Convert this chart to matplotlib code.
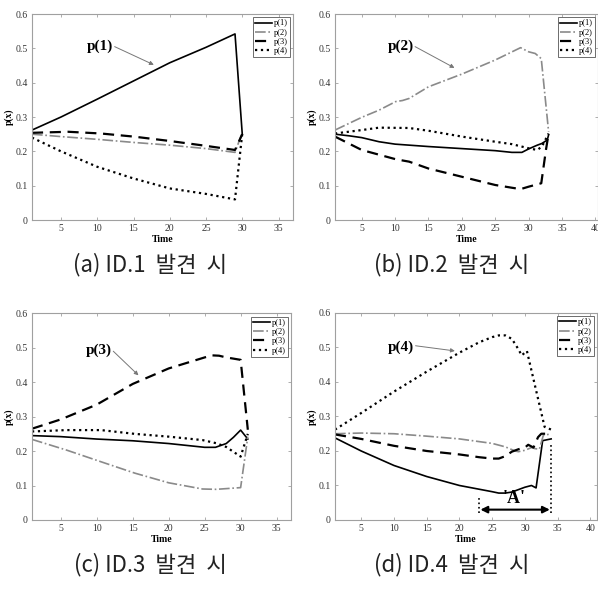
import matplotlib
matplotlib.use('Agg')
import matplotlib.pyplot as plt

# ---- data (Time, p(x)) ----
# panel (a) ID.1
a_x1 = [1, 5, 10, 15, 20, 25, 29, 30]
a_p1 = [0.262, 0.300, 0.352, 0.405, 0.458, 0.503, 0.542, 0.250]
a_x2 = [1, 5, 10, 15, 20, 25, 29, 30]
a_p2 = [0.250, 0.243, 0.235, 0.226, 0.218, 0.208, 0.197, 0.255]
a_x3 = [1, 6, 10.5, 15, 19.7, 24.3, 29, 30]
a_p3 = [0.254, 0.257, 0.252, 0.243, 0.231, 0.218, 0.204, 0.250]
a_x4 = [1, 5, 10, 15, 20, 25, 29, 30]
a_p4 = [0.240, 0.200, 0.155, 0.121, 0.092, 0.076, 0.060, 0.252]

# panel (b) ID.2
b_x1 = [1, 3.2, 5, 7.6, 10, 15, 20, 25, 27.5, 29, 30, 31.3, 32, 32.8, 33]
b_p1 = [0.250, 0.245, 0.240, 0.228, 0.221, 0.214, 0.208, 0.202, 0.197, 0.197, 0.207, 0.218, 0.223, 0.233, 0.248]
b_x2 = [1, 5, 7.6, 10.1, 11.1, 12.1, 15, 20, 25, 28.8, 30, 31, 31.9, 33]
b_p2 = [0.262, 0.299, 0.320, 0.345, 0.348, 0.354, 0.388, 0.425, 0.466, 0.502, 0.490, 0.485, 0.470, 0.257]
b_x3 = [1, 5, 10.1, 12.1, 15, 20, 25, 27.5, 28.8, 30, 31.9, 32.6, 33]
b_p3 = [0.243, 0.204, 0.177, 0.170, 0.150, 0.126, 0.102, 0.094, 0.090, 0.097, 0.107, 0.204, 0.252]
b_x4 = [1, 5, 7.6, 12.1, 15, 20, 25, 27.5, 30, 31.3, 32, 33]
b_p4 = [0.252, 0.262, 0.269, 0.268, 0.260, 0.243, 0.228, 0.221, 0.209, 0.204, 0.214, 0.252]

# panel (c) ID.3
c_x1 = [1, 5, 10, 15, 20, 25, 26.5, 28, 29, 30, 31]
c_p1 = [0.245, 0.242, 0.235, 0.230, 0.222, 0.211, 0.211, 0.222, 0.240, 0.261, 0.235]
c_x2 = [1, 5.8, 10.6, 15.3, 20, 24.7, 26.6, 30, 31]
c_p2 = [0.234, 0.203, 0.169, 0.136, 0.108, 0.090, 0.089, 0.094, 0.242]
c_x3 = [1, 5, 10, 15, 20, 25, 26, 27, 28, 30, 31]
c_p3 = [0.265, 0.292, 0.335, 0.395, 0.440, 0.472, 0.478, 0.477, 0.472, 0.465, 0.262]
c_x4 = [1, 5.8, 10.6, 15.3, 20, 24.7, 26.6, 28, 30, 31]
c_p4 = [0.257, 0.261, 0.261, 0.250, 0.242, 0.232, 0.223, 0.212, 0.184, 0.250]

# panel (d) ID.4
d_x1 = [1, 5, 10, 15, 20, 25, 26, 27, 28, 29, 30, 31, 31.7, 32.7, 34]
d_p1 = [0.238, 0.200, 0.158, 0.126, 0.100, 0.082, 0.078, 0.078, 0.081, 0.088, 0.095, 0.100, 0.093, 0.230, 0.235]
d_x2 = [1, 5, 10, 15, 20, 25, 27, 28.5, 29, 30, 31, 31.5, 32.2, 32.8, 34]
d_p2 = [0.250, 0.252, 0.250, 0.243, 0.235, 0.222, 0.212, 0.200, 0.198, 0.202, 0.210, 0.207, 0.205, 0.245, 0.250]
d_x3 = [1, 5, 10, 15, 20, 23, 25, 26, 27, 28, 29, 30, 30.5, 31.3, 32, 32.5, 34]
d_p3 = [0.248, 0.235, 0.215, 0.200, 0.190, 0.182, 0.178, 0.178, 0.185, 0.198, 0.205, 0.210, 0.218, 0.210, 0.240, 0.250, 0.250]
d_x4 = [1, 5, 10, 15, 20, 23, 25, 26, 27, 28, 29, 29.5, 30.3, 33, 34]
d_p4 = [0.262, 0.310, 0.372, 0.430, 0.485, 0.515, 0.530, 0.535, 0.535, 0.525, 0.495, 0.477, 0.490, 0.270, 0.262]

captions = ['(a) ID.1  발견  시', '(b) ID.2  발견  시', '(c) ID.3  발견  시', '(d) ID.4  발견  시']
labels = ['p(1)', 'p(2)', 'p(3)', 'p(4)']
yticks = [0, 0.1, 0.2, 0.3, 0.4, 0.5, 0.6]
ytick_labels = ['0', '0.1', '0.2', '0.3', '0.4', '0.5', '0.6']

panels = [
    dict(rect=[0.0535, 0.6327, 0.4365, 0.3439], xlim=(1, 37), xticks=[5, 10, 15, 20, 25, 30, 35],
         series=[(a_x1, a_p1), (a_x2, a_p2), (a_x3, a_p3), (a_x4, a_p4)],
         note='p(1)', note_xy=(10.3, 0.507), arrow_from=(12.4, 0.505), arrow_to=(17.8, 0.452)),
    dict(rect=[0.5602, 0.6327, 0.4398, 0.3439], xlim=(1, 40.4), xticks=[5, 10, 15, 20, 25, 30, 35, 40],
         series=[(b_x1, b_p1), (b_x2, b_p2), (b_x3, b_p3), (b_x4, b_p4)],
         note='p(2)', note_xy=(10.8, 0.507), arrow_from=(13.0, 0.505), arrow_to=(18.9, 0.443)),
    dict(rect=[0.0535, 0.1319, 0.4331, 0.3450], xlim=(1, 37), xticks=[5, 10, 15, 20, 25, 30, 35],
         series=[(c_x1, c_p1), (c_x2, c_p2), (c_x3, c_p3), (c_x4, c_p4)],
         note='p(3)', note_xy=(10.3, 0.493), arrow_from=(12.3, 0.49), arrow_to=(15.8, 0.42)),
    dict(rect=[0.5602, 0.1319, 0.4381, 0.3456], xlim=(1, 41), xticks=[5, 10, 15, 20, 25, 30, 35, 40],
         series=[(d_x1, d_p1), (d_x2, d_p2), (d_x3, d_p3), (d_x4, d_p4)],
         note='p(4)', note_xy=(11.1, 0.502), arrow_from=(13.3, 0.505), arrow_to=(19.3, 0.49)),
]

styles = [dict(color='black', linestyle='-', linewidth=1.2),
          dict(color='#8a8a8a', linestyle='-.', linewidth=1.2),
          dict(color='black', linestyle=(0, (5, 3)), linewidth=1.6),
          dict(color='black', linestyle=':', linewidth=1.6)]

serif = ['Liberation Serif', 'DejaVu Serif']
fig = plt.figure(figsize=(5.98, 5.99), dpi=100)

for i, p in enumerate(panels):
    ax = fig.add_axes(p['rect'])
    for (xs, ys), st, lab in zip(p['series'], styles, labels):
        ax.plot(xs, ys, label=lab, **st)
    ax.set_xlim(*p['xlim'])
    ax.set_ylim(0, 0.6)
    ax.set_xticks(p['xticks'])
    ax.set_yticks(yticks)
    ax.set_yticklabels(ytick_labels)
    for s in ax.spines.values():
        s.set_color('#a0a0a0')
        s.set_linewidth(0.8)
    ax.tick_params(direction='in', length=2.5, width=0.6, colors='#a0a0a0',
                   labelcolor='#333333', labelsize=7, top=True, right=True, pad=3)
    for t in ax.get_xticklabels() + ax.get_yticklabels():
        t.set_fontfamily(serif)
    ax.set_xlabel('Time', fontsize=7, fontweight='bold', family=serif, labelpad=1)
    ax.set_ylabel('p(x)', fontsize=7, fontweight='bold', family=serif, labelpad=1)
    leg = ax.legend(loc='upper right', handlelength=2.0, handletextpad=0.2,
                    borderpad=0.25, labelspacing=0.15, fancybox=False, framealpha=1,
                    borderaxespad=0.4, prop={'family': serif, 'size': 6})
    leg.get_frame().set_edgecolor('#555555')
    leg.get_frame().set_linewidth(0.6)
    ax.text(p['note_xy'][0], p['note_xy'][1], p['note'], fontsize=11, fontweight='bold',
            family=serif, ha='center', va='center')
    ax.annotate('', xy=p['arrow_to'], xytext=p['arrow_from'],
                arrowprops=dict(arrowstyle='-|>', color='#777777', lw=0.7,
                                shrinkA=0, shrinkB=0, mutation_scale=6))
    if i == 3:
        ax.plot([23, 23], [0.02, 0.068], color='black', linestyle=':', linewidth=1.2)
        ax.plot([34, 34], [0.02, 0.22], color='black', linestyle=':', linewidth=1.2)
        ax.annotate('', xy=(23.2, 0.03), xytext=(33.8, 0.03),
                    arrowprops=dict(arrowstyle='<|-|>', color='black', lw=1.5,
                                    shrinkA=0, shrinkB=0, mutation_scale=10))
        ax.text(28.3, 0.062, "'A'", fontsize=13, fontweight='bold', family=serif,
                ha='center', va='center')

cap_pos = [(150 / 598, 1 - 265 / 599), (452 / 598, 1 - 265 / 599),
           (150 / 598, 1 - 565 / 599), (452 / 598, 1 - 565 / 599)]
for (cx, cy), cap in zip(cap_pos, captions):
    fig.text(cx, cy, cap, fontsize=16, ha='center', va='center',
             family=['Noto Sans CJK KR', 'DejaVu Sans'], color='#222222')

fig.savefig('out.png', dpi=100)
